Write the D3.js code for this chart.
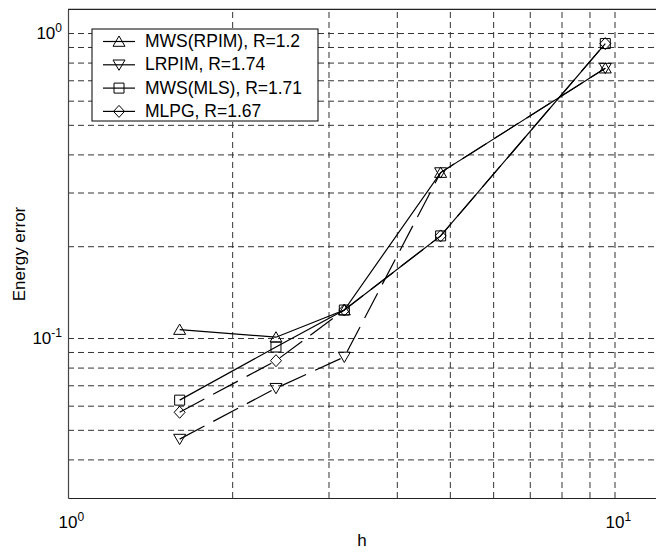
<!DOCTYPE html>
<html>
<head>
<meta charset="utf-8">
<script src="https://cdn.jsdelivr.net/npm/d3@7"></script>
<style>
  html, body { margin: 0; padding: 0; background: #fff; }
  svg { display: block; font-family: "Liberation Sans", Arial, Helvetica, sans-serif; }
</style>
</head>
<body>
<svg id="chart" width="656" height="552"></svg>
<script>
// Mesh spacing h and energy error for each method
const hValues = [1.6, 2.4, 3.2, 4.8, 9.6];
const seriesNames = ["MWS(RPIM), R=1.2", "LRPIM, R=1.74", "MWS(MLS), R=1.71", "MLPG, R=1.67"];
const mwsRpim = [0.107, 0.101, 0.124, 0.35, 0.77];
const lrpim   = [0.0468, 0.0687, 0.087, 0.35, 0.77];
const mwsMls  = [0.0628, 0.0938, 0.124, 0.217, 0.927];
const mlpg    = [0.0573, 0.0846, 0.124, 0.217, 0.927];

const xTickValues = [1, 10];
const xTickExponents = ["0", "1"];
const yTickValues = [0.1, 1];
const yTickExponents = ["-1", "0"];
const xGridValues = [2, 3, 4, 5, 6, 7, 8, 9, 10];
const yGridValues = [0.04, 0.05, 0.06, 0.07, 0.08, 0.09, 0.1, 0.2, 0.3, 0.4, 0.5, 0.6, 0.7, 0.8, 0.9, 1];

const markerTypes = ["triUp", "triDown", "square", "diamond"];
const lineDash = [null, "28,10", null, "28,10"];
const seriesValues = [mwsRpim, lrpim, mwsMls, mlpg];

(function () {
const svg = d3.select("#chart");
const left = 68, bottom = 498;
const decadeX = 547, decadeY = 305;

const x = d3.scaleLog().domain([1, 12]).range([left, left + decadeX * Math.log10(12)]);
const y = d3.scaleLog().domain([0.03, 1.2]).range([bottom, bottom - decadeY * Math.log10(1.2 / 0.03)]);
const plotTop = y.range()[1], plotRight = x.range()[1];

// dashed grid
const grid = svg.append("g");
grid.selectAll("line.gx").data(xGridValues).enter().append("line")
  .attr("x1", d => x(d)).attr("x2", d => x(d))
  .attr("y1", bottom).attr("y2", plotTop)
  .attr("stroke", "#333").attr("stroke-width", 1).attr("stroke-dasharray", "6,4");
grid.selectAll("line.gy").data(yGridValues).enter().append("line")
  .attr("x1", left).attr("x2", plotRight)
  .attr("y1", d => y(d)).attr("y2", d => y(d))
  .attr("stroke", "#333").attr("stroke-width", 1).attr("stroke-dasharray", "6,4");

// axes box
svg.append("g").attr("transform", `translate(0,${bottom})`)
  .call(d3.axisBottom(x).tickValues([]).tickSizeOuter(0))
  .call(g => g.select(".domain").attr("stroke", "#222").attr("stroke-width", 1.2));
svg.append("g").attr("transform", `translate(${left},0)`)
  .call(d3.axisLeft(y).tickValues([]).tickSizeOuter(0))
  .call(g => g.select(".domain").attr("stroke", "#444").attr("stroke-width", 1.2));
svg.append("line").attr("x1", left).attr("x2", plotRight).attr("y1", plotTop).attr("y2", plotTop)
  .attr("stroke", "#222").attr("stroke-width", 1.2);

// tick labels with superscript exponents
const fs = 17, sup = 12;
xTickValues.forEach((v, i) => {
  const t = svg.append("text").attr("x", x(v) - 9.5).attr("y", 528)
    .attr("font-size", fs).attr("fill", "#000");
  t.append("tspan").text("10");
  t.append("tspan").attr("font-size", sup).attr("dy", -7).text(xTickExponents[i]);
});
yTickValues.forEach((v, i) => {
  const t = svg.append("text").attr("x", 62).attr("y", y(v) + 5)
    .attr("text-anchor", "end").attr("font-size", fs).attr("fill", "#000");
  t.append("tspan").text("10");
  t.append("tspan").attr("font-size", sup).attr("dy", -7).text(yTickExponents[i]);
});

// axis titles
svg.append("text").attr("x", 362).attr("y", 546).attr("text-anchor", "middle")
  .attr("font-size", fs).text("h");
svg.append("text").attr("transform", "translate(25,254) rotate(-90)")
  .attr("text-anchor", "middle").attr("font-size", fs).text("Energy error");

// marker drawing
function marker(g, type, cx, cy) {
  let pts;
  if (type === "triUp") pts = [[0, -5.5], [6, 4.8], [-6, 4.8]];
  else if (type === "triDown") pts = [[0, 5.5], [6, -4.8], [-6, -4.8]];
  else if (type === "square") pts = [[-5, -5], [5, -5], [5, 5], [-5, 5]];
  else pts = [[0, -6], [5.5, 0], [0, 6], [-5.5, 0]];
  g.append("polygon")
    .attr("points", pts.map(p => `${cx + p[0]},${cy + p[1]}`).join(" "))
    .attr("fill", "none").attr("stroke", "#000").attr("stroke-width", 1);
}

// series lines and markers
const line = d3.line().x(d => x(d[0])).y(d => y(d[1]));
seriesValues.forEach((vals, s) => {
  const pts = hValues.map((h, i) => [h, vals[i]]);
  const g = svg.append("g");
  g.append("path").attr("d", line(pts)).attr("fill", "none")
    .attr("stroke", "#000").attr("stroke-width", 1.2)
    .attr("stroke-dasharray", lineDash[s]);
  pts.forEach(p => marker(g, markerTypes[s], x(p[0]), y(p[1])));
});

// legend
const lg = svg.append("g");
lg.append("rect").attr("x", 92).attr("y", 29).attr("width", 226).attr("height", 92)
  .attr("fill", "#fff").attr("stroke", "#000").attr("stroke-width", 1);
seriesNames.forEach((name, i) => {
  const base = 47 + i * 23.3;
  const cy = base - 5.5;
  lg.append("line").attr("x1", 103).attr("x2", 135).attr("y1", cy).attr("y2", cy)
    .attr("stroke", "#000").attr("stroke-width", 1.2);
  marker(lg, markerTypes[i], 119, cy);
  lg.append("text").attr("x", 145).attr("y", base).attr("font-size", 17.5).text(name);
});
})();
</script>
</body>
</html>
